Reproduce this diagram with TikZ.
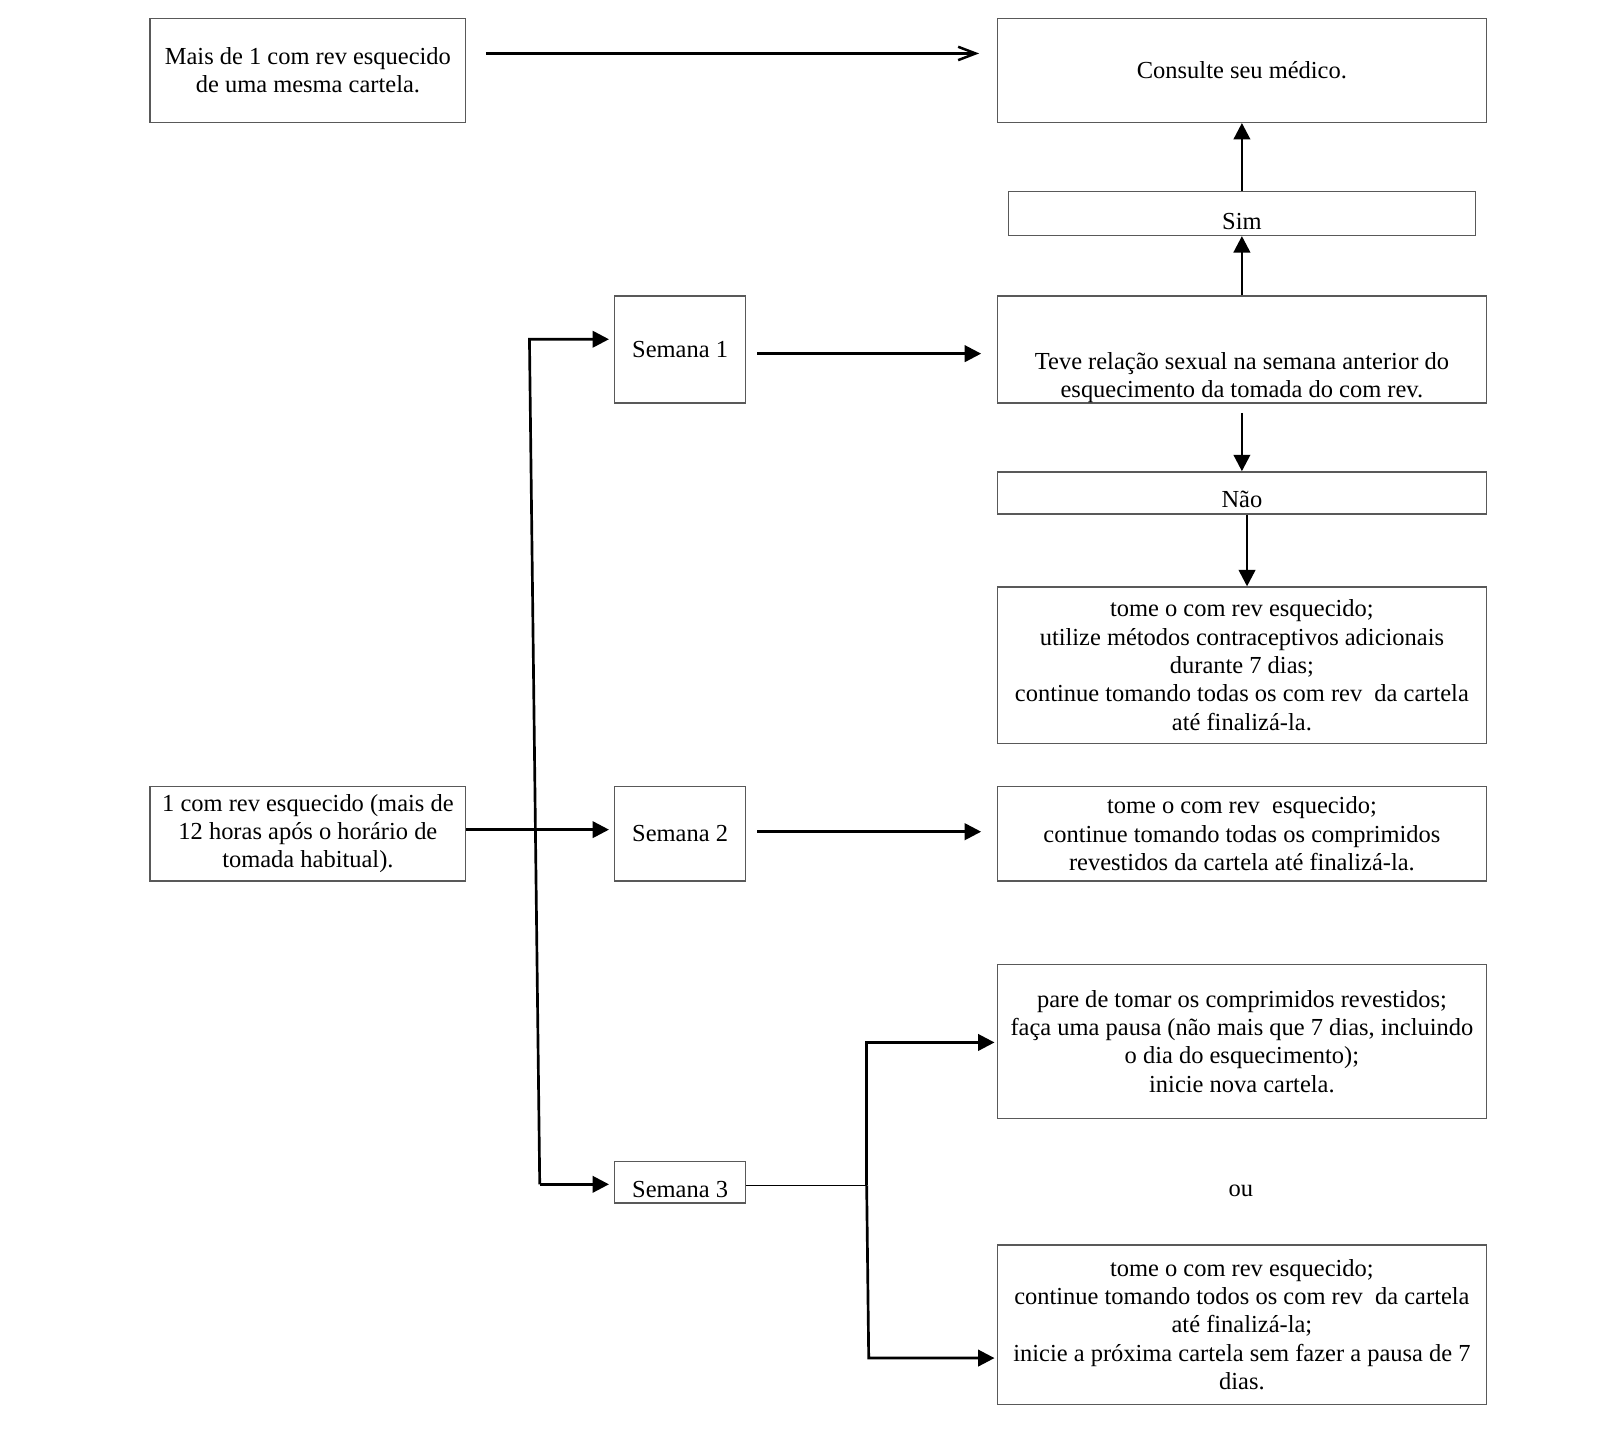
\documentclass[tikz,border=0pt]{standalone}
\usepackage{fontspec}
\setmainfont{Liberation Serif}
\usetikzlibrary{arrows.meta,calc}

\begin{document}
\begin{tikzpicture}[x=0.5pt, y=-0.5pt,
    font=\fontsize{11.9}{13.75}\selectfont,
    box/.style={draw=black!65, line width=0.65pt, align=center, inner sep=0pt},
    arr/.style={line width=1.3pt, -{Triangle[length=8pt,width=8pt]}},
    barb/.style={line width=1.2pt, -{Straight Barb[length=8.5pt,width=6.5pt]}}]
    \useasboundingbox (0,0) rectangle (1568,1395);

    % left column
    \node[box, minimum width=153.5pt, minimum height=50.5pt] (mais) at (299.5,68.5) {Mais de 1 com rev esquecido\\de uma mesma cartela.};
    \node[box, minimum width=153.5pt, minimum height=46pt] (um) at (299.5,811) {1 com rev esquecido (mais de\\12 horas após o horário de\\tomada habitual).};

    % weeks
    \node[box, minimum width=63.5pt, minimum height=52pt] (sem1) at (661.5,340) {Semana 1};
    \node[box, minimum width=63.5pt, minimum height=46pt] (sem2) at (661.5,811) {Semana 2};
    \node[box, minimum width=63.5pt, minimum height=20pt] (sem3) at (661.5,1150) {};
    \node (sem3txt) at (661.5,1157) {Semana 3};

    % right column
    \node[box, minimum width=238pt, minimum height=50.5pt] (cons) at (1208,68.5) {Consulte seu médico.};
    \node[box, minimum width=227pt, minimum height=21.5pt] (sim) at (1208,207.5) {};
    \node (simtxt) at (1208,215.5) {Sim};
    \node[box, minimum width=238pt, minimum height=52pt] (teve) at (1208,340) {};
    \node[align=center] (tevetxt) at (1208,367) {Teve relação sexual na semana anterior do\\esquecimento da tomada do com rev.};
    \node[box, minimum width=238pt, minimum height=20.5pt] (nao) at (1208,479.5) {};
    \node (naotxt) at (1208,486) {Não};
    \node[box, minimum width=238pt, minimum height=76pt] (tome1) at (1208,647) {tome o com rev esquecido;\\utilize métodos contraceptivos adicionais\\durante 7 dias;\\continue tomando todas os com rev~ da cartela\\até finalizá-la.};
    \node[box, minimum width=238pt, minimum height=46pt] (tome2) at (1208,811) {tome o com rev~ esquecido;\\continue tomando todas os comprimidos\\revestidos da cartela até finalizá-la.};
    \node[box, minimum width=238pt, minimum height=75pt] (pare) at (1208,1013) {pare de tomar os comprimidos revestidos;\\faça uma pausa (não mais que 7 dias, incluindo\\o dia do esquecimento);\\inicie nova cartela.};
    \node (ou) at (1207,1158) {ou};
    \node[box, minimum width=238pt, minimum height=77.5pt] (tome3) at (1208,1288.5) {tome o com rev esquecido;\\continue tomando todos os com rev~ da cartela\\até finalizá-la;\\inicie a próxima cartela sem fazer a pausa de 7\\dias.};

    % branch points
    \coordinate (f1) at (515,330);
    \coordinate (f3) at (525,1152);
    \coordinate (g) at (843,1153);
    \coordinate (g1) at (843,1014);
    \coordinate (g3) at (845,1321);

    % arrows on the right
    \draw[barb] ([xshift=9.5pt,yshift=8.25pt]mais.east) -- ([xshift=-8.5pt,yshift=8.25pt]cons.west);
    \draw[arr] (sim.north) -- (cons.south);
    \draw[arr] (teve.north) -- (sim.south);
    \draw[arr] ([yshift=-4.5pt]teve.south) -- (nao.north);
    \draw[arr] ([xshift=2.5pt]nao.south) -- ([xshift=2.5pt]tome1.north);

    % weeks to answers
    \draw[arr] ([xshift=5.5pt,yshift=-2pt]sem1.east) -- ([xshift=-7.5pt,yshift=-2pt]teve.west);
    \draw[arr] ([xshift=5.5pt,yshift=1pt]sem2.east) -- ([xshift=-7.5pt,yshift=1pt]tome2.west);
    \draw[arr] ([yshift=2pt]um.east) -- ([xshift=-2.5pt,yshift=2pt]sem2.west);
    \draw[arr] (f3) -- (f1) -- ($(sem1.west |- f1)+(-5,0)$);
    \draw[arr] (f3) -- ($(sem3.west |- f3)+(-5,0)$);

    % week 3 split
    \draw[line width=0.8pt] (sem3.east |- g) -- (g);
    \draw[arr] (g) -- (g1) -- ($(pare.west |- g1)+(-2,0)$);
    \draw[arr] (g) -- (g3) -- ($(tome3.west |- g3)+(-2,0)$);
\end{tikzpicture}
\end{document}
